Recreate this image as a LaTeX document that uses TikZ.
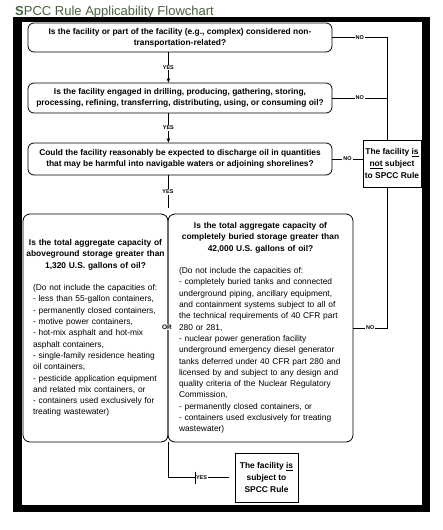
\documentclass[tikz,border=0pt]{standalone}
\usepackage{fontspec}
\setmainfont{Liberation Sans}
\usetikzlibrary{arrows.meta}
\definecolor{titlegreen}{RGB}{72,98,58}

\begin{document}
\begin{tikzpicture}[x=1pt, y=-1pt, >={Stealth[length=4.5pt,width=3.5pt]},
        question/.style={draw=black, line width=0.8pt, rounded corners=6pt, inner sep=0pt, align=center, font=\fontsize{8.4}{11.3}\selectfont\bfseries},
        capacity/.style={draw=black, line width=0.8pt, rounded corners=7pt, inner sep=0pt, font=\fontsize{8.4}{11.3}\selectfont},
        outcome/.style={draw=black, line width=0.8pt, inner sep=0pt, align=center, font=\fontsize{8.4}{12.2}\selectfont\bfseries},
        lab/.style={fill=white, inner sep=1pt, font=\fontsize{5.5}{6}\selectfont\bfseries}]
        \useasboundingbox (0,0) rectangle (442,530);

        % Frame and title
        \fill[black] (13,16.5) rectangle (430,512);
        \fill[white] (22,22) rectangle (422,505);
        \node[anchor=base west, inner sep=0pt, text=titlegreen, font=\fontsize{13}{15}\selectfont] (title) at (15,15) {\textbf{S}PCC Rule Applicability Flowchart};

        % Question boxes
        \node[question, minimum width=304, minimum height=29] (Q1) at (180,37.5) {Is the facility or part of the facility (e.g., complex) considered non-\\transportation-related?};
        \node[question, minimum width=304, minimum height=30] (Q2) at (180,98) {Is the facility engaged in drilling, producing, gathering, storing,\\processing, refining, transferring, distributing, using, or consuming oil?};
        \node[question, minimum width=304, minimum height=32] (Q3) at (180,159) {Could the facility reasonably be expected to discharge oil in quantities\\that may be harmful into navigable waters or adjoining shorelines?};

        % Capacity boxes
        \node[capacity, minimum width=145, minimum height=228, text width=143] (Q4) at (95.5,328) {\centering\bfseries Is the total aggregate capacity of\\aboveground storage greater than\\1,320 U.S. gallons of oil?\par\vspace{11.3pt}\raggedright\leftskip=9pt\mdseries (Do not include the capacities of:\\- less than 55-gallon containers,\\- permanently closed containers,\\- motive power containers,\\- hot-mix asphalt and hot-mix\\asphalt containers,\\- single-family residence heating\\oil containers,\\- pesticide application equipment\\and related mix containers, or\\- containers used exclusively for\\treating wastewater)\par};
        \node[capacity, minimum width=185, minimum height=228, text width=181] (Q5) at (260.5,328) {\centering\bfseries Is the total aggregate capacity of\\completely buried storage greater than\\42,000 U.S. gallons of oil?\par\vspace{11.3pt}\raggedright\leftskip=9pt\mdseries (Do not include the capacities of:\\- completely buried tanks and connected\\underground piping, ancillary equipment,\\and containment systems subject to all of\\the technical requirements of 40 CFR part\\280 or 281,\\- nuclear power generation facility\\underground emergency diesel generator\\tanks deferred under 40 CFR part 280 and\\licensed by and subject to any design and\\quality criteria of the Nuclear Regulatory\\Commission,\\- permanently closed containers, or\\- containers used exclusively for treating\\wastewater)\par};
        \node[fill=white, inner sep=1pt, font=\fontsize{6.5}{7}\selectfont\bfseries] (or) at (167,327) {OR};

        % Outcome boxes
        \node[outcome, minimum width=58, minimum height=47] (notsub) at (392,163.5) {The facility \underline{is}\\\underline{not} subject\\to SPCC Rule};
        \node[outcome, minimum width=63, minimum height=49] (sub) at (266.5,477.5) {The facility \underline{is}\\subject to\\SPCC Rule};

        % Connections
        \coordinate (rc) at (387,0);
        \coordinate (y3) at (168,208);
        \draw[->] (Q1.south -| Q4.east) -- node[lab] {YES} (Q2.north -| Q4.east);
        \draw[->] (Q2.south -| Q4.east) -- node[lab] {YES} (Q3.north -| Q4.east);
        \draw (Q3.south -| y3) -- node[lab] {YES} (y3);
        \draw (Q1.east) -- node[lab] {NO} (Q1.east -| rc) -- (notsub.north -| rc);
        \draw (Q2.east) -- node[lab] {NO} (Q2.east -| rc);
        \draw (Q3.east) -- node[lab] {NO} (Q3.east -| notsub.west);
        \draw (Q5.east) -- node[lab] {NO} (Q5.east -| rc) -- (notsub.south -| rc);
        \draw[shorten >=6pt] (Q4.south east) -- (Q4.south east |- sub.west) -- node[lab] (yes5) {YES} (sub.west);
        \draw (yes5.west) ++(0,-6) -- ++(0,12);
    \end{tikzpicture}
\end{document}
